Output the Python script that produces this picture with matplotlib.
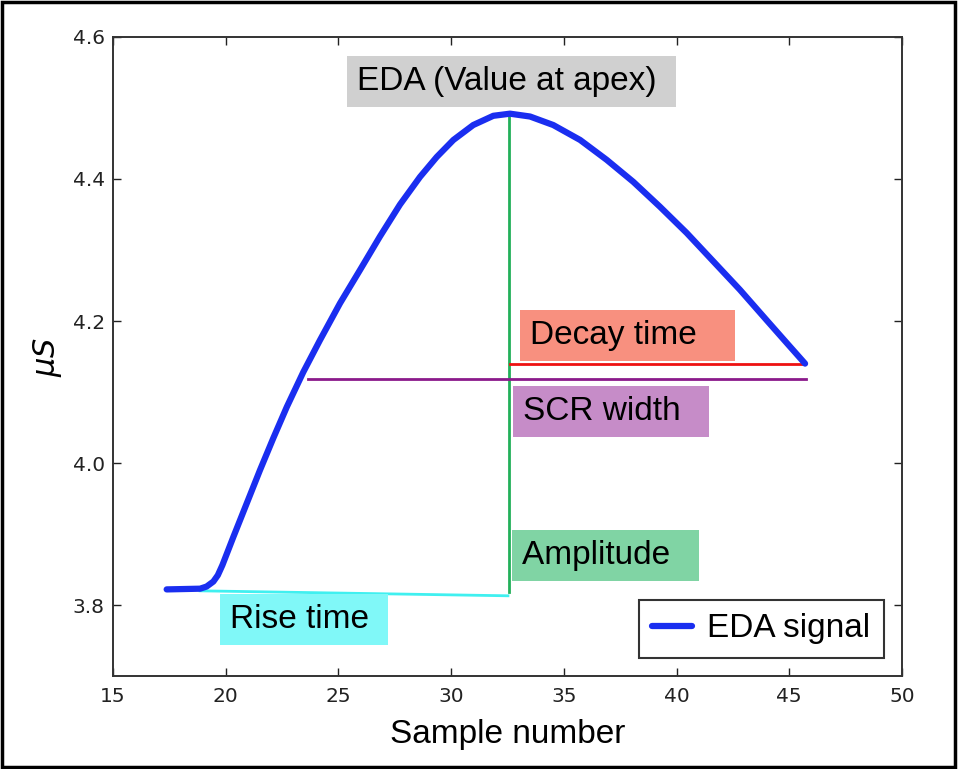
import matplotlib.pyplot as plt
from matplotlib.patches import Rectangle

# EDA signal
sample = [17.38, 18.86, 19.15, 19.45, 19.65, 19.85, 20.34, 20.93, 21.52, 22.11,
          22.71, 23.44, 24.18, 25.07, 25.96, 26.84, 27.73, 28.62, 29.36, 30.10,
          30.98, 31.87, 32.61, 33.50, 34.53, 35.72, 36.90, 38.08, 39.26, 40.45,
          41.63, 42.81, 44.00, 44.89, 45.70]
eda = [3.822, 3.823, 3.826, 3.833, 3.842, 3.856, 3.896, 3.943, 3.990, 4.035,
       4.079, 4.128, 4.173, 4.225, 4.272, 4.319, 4.364, 4.403, 4.431, 4.455,
       4.476, 4.489, 4.492, 4.488, 4.476, 4.455, 4.427, 4.396, 4.361, 4.324,
       4.284, 4.244, 4.201, 4.169, 4.140]

# feature lines
rise_x = [18.86, 32.52]
rise_y = [3.820, 3.813]
amp_x = [32.57, 32.57]
amp_y = [3.818, 4.492]
decay_x = [32.60, 45.70]
decay_y = [4.139, 4.139]
width_x = [23.65, 45.75]
width_y = [4.119, 4.119]

# labels: (text, x, y, colour)
labels = [
    ("EDA (Value at apex) ", 25.82, 4.537, "#d0d0d0"),
    ("Decay time   ", 33.50, 4.180, "#f8907f"),
    ("SCR width  ", 33.19, 4.073, "#c68cc8"),
    ("Amplitude  ", 33.14, 3.870, "#80d4a4"),
    ("Rise time ", 20.19, 3.779, "#80f8f8"),
]

fig = plt.figure(figsize=(9.61, 7.69), dpi=100)
ax = fig.add_axes([0.1176, 0.1209, 0.8210, 0.8310])

ax.plot(rise_x, rise_y, color="#40f0f0", lw=2)
ax.plot(amp_x, amp_y, color="#22b05a", lw=2)
ax.plot(decay_x, decay_y, color="#ee1111", lw=2)
ax.plot(width_x, width_y, color="#8b1a8b", lw=2)
ax.plot(sample, eda, color="#1a2ef0", lw=4.5, solid_capstyle="round",
        solid_joinstyle="round", label="EDA signal", zorder=5)

for txt, x, y, c in labels:
    ax.text(x, y, txt, fontsize=24, family="Liberation Sans", va="center",
            ha="left",
            bbox=dict(boxstyle="square,pad=0.3", facecolor=c, edgecolor="none"))

ax.set_xlim(15, 50)
ax.set_ylim(3.7, 4.6)
ax.set_xticks([15, 20, 25, 30, 35, 40, 45, 50])
ax.set_yticks([3.8, 4.0, 4.2, 4.4, 4.6])
ax.tick_params(direction="in", length=6, width=1, top=True, right=True,
               labelsize=14.5, colors="#222222")
ax.tick_params(axis="x", pad=8)
ax.tick_params(axis="y", pad=6)
for s in ax.spines.values():
    s.set_linewidth(1.4)
    s.set_color("#333333")

ax.set_xlabel("Sample number", fontsize=24, family="Liberation Sans", labelpad=9)
ax.set_ylabel(r"$\mu S$", fontsize=22, labelpad=6)

leg = ax.legend(loc="lower right", prop={"family": "Liberation Sans", "size": 24},
                fancybox=False, handlelength=1.2, borderaxespad=0.55,
                borderpad=0.4, handletextpad=0.45)
leg.get_frame().set_edgecolor("black")
leg.get_frame().set_linewidth(1.5)

fig.patches.append(Rectangle((0.002, 0.002), 0.992, 0.995, transform=fig.transFigure,
                             fill=False, edgecolor="black", lw=2.5))

fig.savefig("out.png", dpi=100)
